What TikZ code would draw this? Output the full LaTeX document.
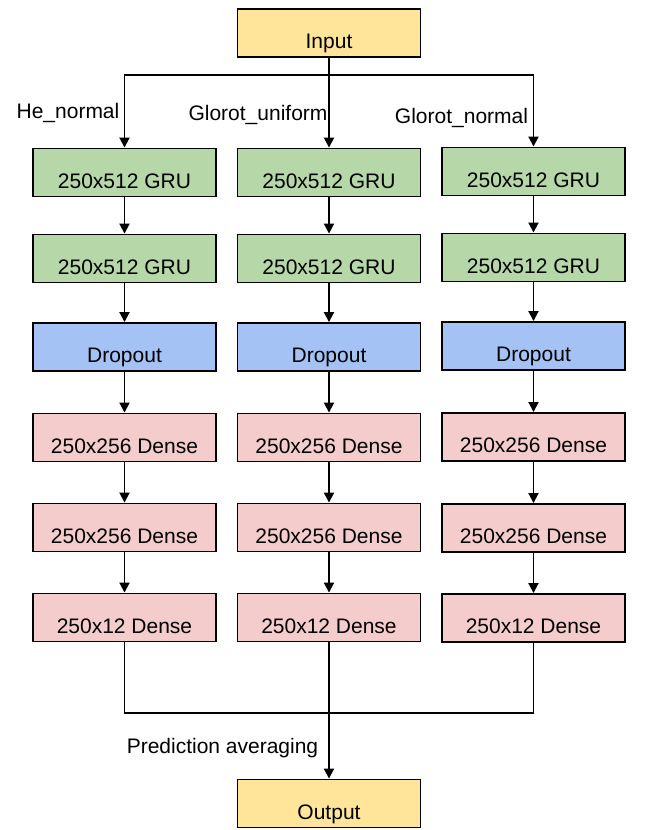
\documentclass[tikz,border=0pt]{standalone}
\usepackage{fontspec}
\setmainfont{Liberation Sans}
\usetikzlibrary{arrows.meta}
\definecolor{inyellow}{HTML}{FFE599}
\definecolor{grugreen}{HTML}{B6D7A8}
\definecolor{dropblue}{HTML}{A4C2F4}
\definecolor{densepink}{HTML}{F4CCCC}
\begin{document}
\begin{tikzpicture}[x=1pt, y=-1pt, line width=1.9pt,
    box/.style={draw, minimum width=183pt, minimum height=48pt, inner sep=0pt,
        text height=31pt, text depth=0pt, font=\fontsize{21}{25}\selectfont},
    iobox/.style={box, fill=inyellow},
    grubox/.style={box, fill=grugreen},
    dropbox/.style={box, fill=dropblue},
    densebox/.style={box, fill=densepink},
    lbl/.style={anchor=base, inner sep=0pt, font=\fontsize{21}{25}\selectfont},
    arr/.style={-{Triangle[width=10pt,length=10pt]}}]
                \useasboundingbox (0,0) rectangle (646,830);
                \node[iobox] (in) at (329,33) {Input};
                \node[grubox] (gruA1) at (124.5,172.5) {250x512 GRU};
                \node[grubox] (gruB1) at (329,172.5) {250x512 GRU};
                \node[grubox] (gruC1) at (533.5,171.5) {250x512 GRU};
                \node[grubox] (gruA2) at (124.5,258.5) {250x512 GRU};
                \node[grubox] (gruB2) at (329,258.5) {250x512 GRU};
                \node[grubox] (gruC2) at (533.5,257.5) {250x512 GRU};
                \node[dropbox] (dropA) at (124.5,347) {Dropout};
                \node[dropbox] (dropB) at (329,347) {Dropout};
                \node[dropbox] (dropC) at (533.5,346) {Dropout};
                \node[densebox] (denA1) at (124.5,437.5) {250x256 Dense};
                \node[densebox] (denB1) at (329,437.5) {250x256 Dense};
                \node[densebox] (denC1) at (533.5,437) {250x256 Dense};
                \node[densebox] (denA2) at (124.5,527.5) {250x256 Dense};
                \node[densebox] (denB2) at (329,527.5) {250x256 Dense};
                \node[densebox] (denC2) at (533.5,528) {250x256 Dense};
                \node[densebox] (denA3) at (124.5,617.5) {250x12 Dense};
                \node[densebox] (denB3) at (329,617.5) {250x12 Dense};
                \node[densebox] (denC3) at (533.5,618) {250x12 Dense};
                \node[iobox] (out) at (329,803.5) {Output};
                \coordinate (split) at (329,75);
                \coordinate (merge) at (329,713);
                \draw [arr] (in) -- (gruB1);
                \draw [arr] (split) -| (gruA1);
                \draw [arr] (split) -| (gruC1);
                \draw [arr] (gruA1) -- (gruA2);
                \draw [arr] (gruB1) -- (gruB2);
                \draw [arr] (gruC1) -- (gruC2);
                \draw [arr] (gruA2) -- (dropA);
                \draw [arr] (gruB2) -- (dropB);
                \draw [arr] (gruC2) -- (dropC);
                \draw [arr] (dropA) -- (denA1);
                \draw [arr] (dropB) -- (denB1);
                \draw [arr] (dropC) -- (denC1);
                \draw [arr] (denA1) -- (denA2);
                \draw [arr] (denB1) -- (denB2);
                \draw [arr] (denC1) -- (denC2);
                \draw [arr] (denA2) -- (denA3);
                \draw [arr] (denB2) -- (denB3);
                \draw [arr] (denC2) -- (denC3);
                \draw (denA3) |- (merge);
                \draw (denC3) |- (merge);
                \draw [arr] (denB3) -- (out);
                \node[lbl] (heinit) at (68,118) {He\_normal};
                \node[lbl] (guinit) at (258,120) {Glorot\_uniform};
                \node[lbl] (gninit) at (461.5,123) {Glorot\_normal};
                \node[lbl] (avg) at (222.5,753) {Prediction averaging};
            \end{tikzpicture}
\end{document}
